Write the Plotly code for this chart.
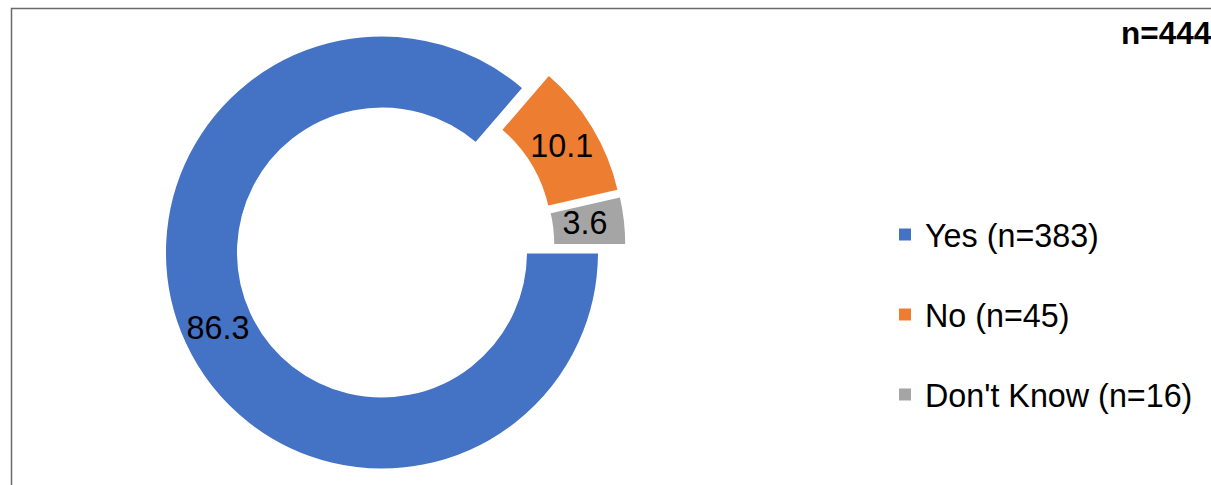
import plotly.graph_objects as go

# Survey responses (percent of respondents) and legend labels
categories = ["Yes (n=383)", "No (n=45)", "Don't Know (n=16)"]
percentages = [86.3, 10.1, 3.6]
total_label = "n=444"

slice_colors = ["#4472C4", "#ED7D31", "#A5A5A5"]

W, H = 1211, 485
FONT = "Liberation Sans, Arial, sans-serif"
FS = 32.3

# Doughnut geometry (pixels): centre, outer radius, explode amount
cx, cy, radius = 395, 246.5, 217
pull = 0.066
box = radius * (2 + 2 * pull)

dom_x = [(cx - box / 2) / W, (cx + box / 2) / W]
dom_y = [1 - (cy + box / 2) / H, 1 - (cy - box / 2) / H]

# Value labels; the thin last slice gets trailing no-break spaces so its
# label sits nearer the middle of the ring instead of its outer edge
label_templates = ["%{value:.1f}", "%{value:.1f}", "%{value:.1f}" + "\u00a0" * 4]

fig = go.Figure()

# Legend entries: one tiny pie per category so entries can be spaced apart
for i, (lab, val, col) in enumerate(zip(categories, percentages, slice_colors)):
    fig.add_trace(go.Pie(
        labels=[lab], values=[val],
        marker=dict(colors=[col], line=dict(width=0)),
        domain=dict(x=[0, 0.0001], y=[0, 0.0001]),
        textinfo="none", hoverinfo="skip",
        legendgroup=f"g{i}", showlegend=True, sort=False,
    ))

# Main exploded doughnut
fig.add_trace(go.Pie(
    labels=categories,
    values=percentages,
    marker=dict(colors=slice_colors, line=dict(color="white", width=2)),
    hole=144 / 217,
    pull=[pull] * len(percentages),
    rotation=90,
    direction="clockwise",
    sort=False,
    texttemplate=label_templates,
    textposition="inside",
    insidetextorientation="horizontal",
    textfont=dict(family=FONT, size=FS, color="black"),
    domain=dict(x=dom_x, y=dom_y),
    showlegend=False,
))

fig.update_layout(
    width=W, height=H,
    margin=dict(l=0, r=0, t=0, b=0),
    paper_bgcolor="white",
    plot_bgcolor="white",
    font=dict(family=FONT, size=FS, color="black"),
    uniformtext=dict(minsize=FS, mode="show"),
    legend=dict(
        x=885 / W, xanchor="left",
        y=1 - 207 / H, yanchor="top",
        font=dict(family=FONT, size=FS, color="black"),
        tracegroupgap=35,
        traceorder="grouped",
        bgcolor="rgba(0,0,0,0)",
    ),
    annotations=[dict(
        text=f"<b>{total_label}</b>",
        x=1 + 3 / W, xref="paper", xanchor="right",
        y=1 - 33 / H, yref="paper", yanchor="middle",
        showarrow=False,
        font=dict(family=FONT, size=31.5, color="black"),
    )],
    shapes=[dict(
        type="rect", xref="paper", yref="paper",
        x0=11.5 / W, x1=1.05, y0=-0.05, y1=1 - 8.5 / H,
        line=dict(color="#6a6a6a", width=1.5),
        fillcolor="rgba(0,0,0,0)", layer="above",
    )],
)

fig.write_html("out.html")
